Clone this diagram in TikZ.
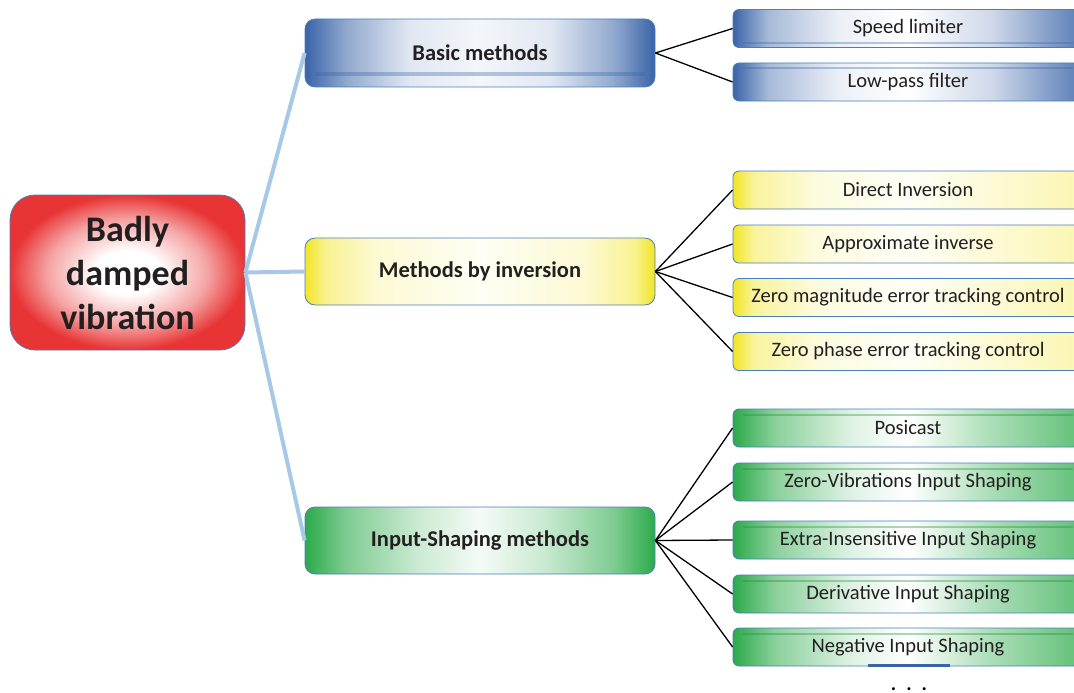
\documentclass[tikz,border=0pt]{standalone}
\usepackage{fontspec}
\setmainfont{Carlito}
\usepackage{tikz}
\usetikzlibrary{positioning}
\definecolor{inkgray}{HTML}{231F20}
\definecolor{edgeline}{HTML}{4A7EBB}
\definecolor{branchblue}{HTML}{A7C8E6}
\definecolor{rootred}{HTML}{E83434}
\definecolor{deepblue}{HTML}{3A64A8}
\definecolor{sunyellow}{HTML}{F2E523}
\definecolor{leafgreen}{HTML}{2BAA4A}
% glossy horizontal fills (box spans 25bp..75bp)
\pgfdeclarehorizontalshading{bluegroup}{100bp}{color(0bp)=(deepblue); color(25bp)=(deepblue); color(31bp)=(deepblue!55!white); color(40bp)=(deepblue!15!white); color(50bp)=(deepblue!6!white); color(60bp)=(deepblue!15!white); color(69bp)=(deepblue!55!white); color(75bp)=(deepblue); color(100bp)=(deepblue)}
\pgfdeclarehorizontalshading{blueleaf}{100bp}{color(0bp)=(deepblue); color(25bp)=(deepblue); color(30bp)=(deepblue!45!white); color(40bp)=(deepblue!10!white); color(50bp)=(white); color(62bp)=(deepblue!25!white); color(75bp)=(deepblue!85!white); color(100bp)=(deepblue)}
\pgfdeclarehorizontalshading{yellowgroup}{100bp}{color(0bp)=(sunyellow); color(25bp)=(sunyellow); color(28bp)=(sunyellow!50!white); color(35bp)=(sunyellow!20!white); color(50bp)=(sunyellow!5!white); color(65bp)=(sunyellow!20!white); color(72bp)=(sunyellow!50!white); color(75bp)=(sunyellow); color(100bp)=(sunyellow)}
\pgfdeclarehorizontalshading{yellowleaf}{100bp}{color(0bp)=(sunyellow); color(25bp)=(sunyellow); color(28bp)=(sunyellow!45!white); color(37bp)=(sunyellow!15!white); color(50bp)=(sunyellow!4!white); color(75bp)=(sunyellow!35!white); color(100bp)=(sunyellow)}
\pgfdeclarehorizontalshading{greengroup}{100bp}{color(0bp)=(leafgreen); color(25bp)=(leafgreen); color(31bp)=(leafgreen!60!white); color(41bp)=(leafgreen!25!white); color(50bp)=(leafgreen!5!white); color(59bp)=(leafgreen!25!white); color(69bp)=(leafgreen!60!white); color(75bp)=(leafgreen); color(100bp)=(leafgreen)}
\pgfdeclarehorizontalshading{greenleaf}{100bp}{color(0bp)=(leafgreen); color(25bp)=(leafgreen); color(31bp)=(leafgreen!55!white); color(42bp)=(leafgreen!15!white); color(50bp)=(white); color(62bp)=(leafgreen!40!white); color(75bp)=(leafgreen!75!white); color(100bp)=(leafgreen)}
\pgfdeclareradialshading{redglow}{\pgfpoint{0bp}{0bp}}{color(0bp)=(white); color(7bp)=(white); color(17bp)=(rootred!45!white); color(25bp)=(rootred); color(50bp)=(rootred)}
\tikzstyle{root} = [rectangle, rounded corners=25pt, minimum width=235pt, minimum height=155pt, inner sep=0pt, align=center, draw=edgeline, line width=0.8pt, shading=redglow, text=inkgray, font=\fontsize{36}{44}\selectfont\bfseries]
\tikzstyle{group} = [rectangle, rounded corners=10pt, minimum width=350pt, minimum height=67pt, draw=edgeline, line width=0.8pt, text=inkgray, font=\fontsize{22.5}{27}\selectfont\bfseries]
\tikzstyle{leaf} = [rectangle, rounded corners=6pt, minimum width=350pt, minimum height=38pt, draw=edgeline, line width=0.8pt, text=inkgray, font=\fontsize{20.5}{24}\selectfont]
\tikzstyle{branch} = [line width=4pt, draw=branchblue]
\tikzstyle{twig} = [line width=1.3pt, draw=black]
% thin darker stripe across a box, measured up from its bottom edge
\tikzset{stripe/.style n args={3}{path picture={
  \fill[#3, opacity=.35, sharp corners] ([xshift=10pt,yshift=#1]path picture bounding box.south west)
    rectangle ([xshift=-10pt,yshift=#2]path picture bounding box.south east);}}}

\begin{document}
\begin{tikzpicture}[x=1pt, y=-1pt]
\useasboundingbox (0,0) rectangle (1074,693);

\node (root) [root] at (127.5,272.5) {Badly\\damped\\vibration};

% three families of methods
\node (basic) [group, shading=bluegroup, stripe={11pt}{15pt}{deepblue}, minimum height=68pt] at (480,53) {Basic methods};
\node (inv) [group, shading=yellowgroup] at (480,271.5) {Methods by inversion};
\node (shape) [group, shading=greengroup] at (480,540.5) {Input-Shaping methods};

% leaves
\node (speed) [leaf, shading=blueleaf, stripe={3pt}{5pt}{deepblue}] at (908,28.5) {Speed limiter};
\node (lowpass) [leaf, shading=blueleaf, stripe={32pt}{34pt}{deepblue}] at (908,82) {Low-pass filter};

\node (direct) [leaf, shading=yellowleaf] at (908,190) {Direct Inversion};
\node (approx) [leaf, shading=yellowleaf] at (908,244) {Approximate inverse};
\node (zmetc) [leaf, shading=yellowleaf] at (908,297.5) {Zero magnitude error tracking control};
\node (zpetc) [leaf, shading=yellowleaf] at (908,351.5) {Zero phase error tracking control};

\node (posicast) [leaf, shading=greenleaf, stripe={31pt}{33pt}{leafgreen!80!black}] at (908,428) {Posicast};
\node (zv) [leaf, shading=greenleaf, stripe={31pt}{33pt}{leafgreen!80!black}] at (908,482) {Zero-Vibrations Input Shaping};
\node (ei) [leaf, shading=greenleaf, stripe={31pt}{33pt}{leafgreen!80!black}] at (908,540) {Extra-Insensitive Input Shaping};
\node (deriv) [leaf, shading=greenleaf, stripe={31pt}{33pt}{leafgreen!80!black}] at (908,594) {Derivative Input Shaping};
\node (neg) [leaf, shading=greenleaf, stripe={31pt}{33pt}{leafgreen!80!black}] at (908,647) {Negative Input Shaping};
\draw [line width=2.5pt, draw=deepblue] (868,665.5) -- (950,665.5);
\node (more) [anchor=base, inner sep=0pt] at (909,690) {\fontsize{20}{22}\selectfont\bfseries .\hspace{10pt}.\hspace{10pt}.};

% connectors
\foreach \g in {basic, inv, shape}
  \draw [branch] (root.east) -- (\g.west);
\foreach \l in {speed, lowpass}
  \draw [twig] (basic.east) -- (\l.west);
\foreach \l in {direct, approx, zmetc, zpetc}
  \draw [twig] (inv.east) -- (\l.west);
\foreach \l in {posicast, zv, ei, deriv, neg}
  \draw [twig] (shape.east) -- (\l.west);
\end{tikzpicture}
\end{document}
